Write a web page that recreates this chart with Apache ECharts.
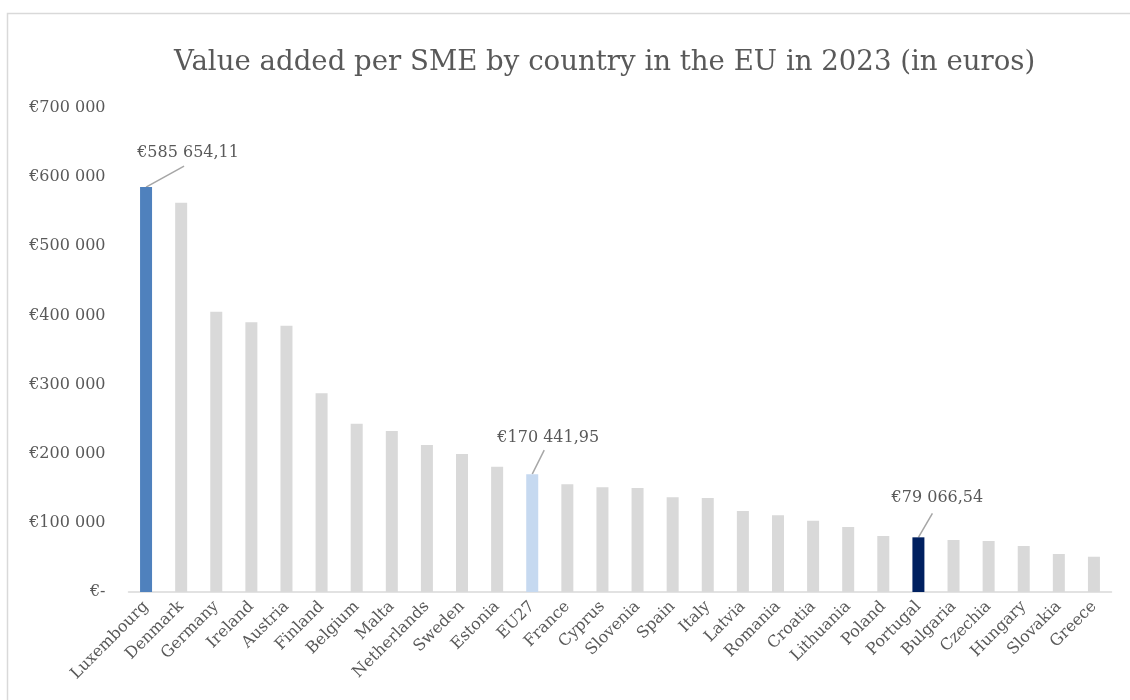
<!DOCTYPE html>
<html>
<head>
<meta charset="utf-8">
<script src="https://cdn.jsdelivr.net/npm/echarts@6/dist/echarts.min.js"></script>
<style>
html,body{margin:0;padding:0;background:#fff;}
#c{width:1130px;height:700px;}
</style>
</head>
<body>
<div id="c"></div>
<script>
const titleText = 'Value added per SME by country in the EU in 2023 (in euros)';
const categories = ['Luxembourg','Denmark','Germany','Ireland','Austria','Finland','Belgium','Malta','Netherlands','Sweden','Estonia','EU27','France','Cyprus','Slovenia','Spain','Italy','Latvia','Romania','Croatia','Lithuania','Poland','Portugal','Bulgaria','Czechia','Hungary','Slovakia','Greece'];
const values = [585654.11,563000,405400,390000,385200,287400,243400,232900,212600,199600,181200,170441.95,155800,151400,150400,137000,136000,117200,111000,103200,94000,81000,79066.54,75200,73800,66500,55000,51000];
const yTicks = [0,100000,200000,300000,400000,500000,600000,700000];
const highlightedNames = ['Luxembourg','EU27','Portugal'];
const labelledNames = ['Luxembourg','EU27','Portugal'];

// styling / placement (not data)
const highlightColors = {'Luxembourg':'#4f81bd','EU27':'#c6d9f0','Portugal':'#002060'};
const labelShift = {'Luxembourg':[42,-21],'EU27':[16,-23],'Portugal':[19,-26]};
const leaderShift = {'Luxembourg':[38,-21],'EU27':[12,-24],'Portugal':[14,-24]};

const SERIF = '"DejaVu Serif", serif';
const TXT = '#595959';

function fmtEuro(v, dec){
  if (v === 0) return '€-';
  const fixed = v.toFixed(dec);
  let [i, d] = fixed.split('.');
  i = i.replace(/\B(?=(\d{3})+(?!\d))/g, ' ');
  return '€' + i + (d ? ',' + d : '');
}

const data = categories.map((c, idx) => {
  const item = { value: values[idx], itemStyle: { color: highlightedNames.includes(c) ? highlightColors[c] : '#d9d9d9' } };
  if (labelledNames.includes(c)) {
    item.label = { show: true, position: 'top', formatter: p => fmtEuro(p.value, 2),
      fontFamily: SERIF, fontSize: 16, color: TXT };
  }
  return item;
});

const chart = echarts.init(document.getElementById('c'), null, {renderer:'canvas'});
const baseGraphic = [{ type:'rect', shape:{x:7.5,y:13.5,width:1140,height:700}, style:{fill:'none', stroke:'#d9d9d9', lineWidth:1.5}, silent:true }];
chart.setOption({
  animation: false,
  backgroundColor: '#fff',
  graphic: baseGraphic,
  title: { text: titleText, left: 169, top: 44,
    textStyle: { fontFamily: SERIF, fontSize: 27.6, fontWeight: 'normal', color: TXT } },
  grid: { left: 128.5, right: 18.5, top: 108, bottom: 108 },
  xAxis: { type: 'category', data: categories,
    axisLine: { lineStyle: { color: '#d9d9d9', width: 1.5 } },
    axisTick: { show: false },
    axisLabel: { rotate: 45, interval: 0, fontFamily: SERIF, fontSize: 16, color: TXT, margin: 12 } },
  yAxis: { type: 'value', min: 0, max: yTicks[yTicks.length-1], interval: yTicks[1]-yTicks[0],
    axisLine: { show: false }, axisTick: { show: false }, splitLine: { show: false },
    axisLabel: { fontFamily: SERIF, fontSize: 16, color: TXT, margin: 23, formatter: v => fmtEuro(v, 0) } },
  series: [{ type: 'bar', data: data, barWidth: 12,
    labelLayout: function (p) {
      const c = categories[p.dataIndex];
      const o = labelShift[c];
      if (!o) return {};
      return { dx: o[0], dy: o[1] };
    } }]
});

const lines = labelledNames.map(name => {
  const idx = categories.indexOf(name);
  const p = chart.convertToPixel({ seriesIndex: 0 }, [idx, values[idx]]);
  const s = leaderShift[name];
  return { type: 'line', silent: true,
    shape: { x1: p[0], y1: p[1], x2: p[0] + s[0], y2: p[1] + s[1] },
    style: { stroke: '#a6a6a6', lineWidth: 1.5 } };
});
chart.setOption({ graphic: baseGraphic.concat(lines) });
</script>
</body>
</html>
